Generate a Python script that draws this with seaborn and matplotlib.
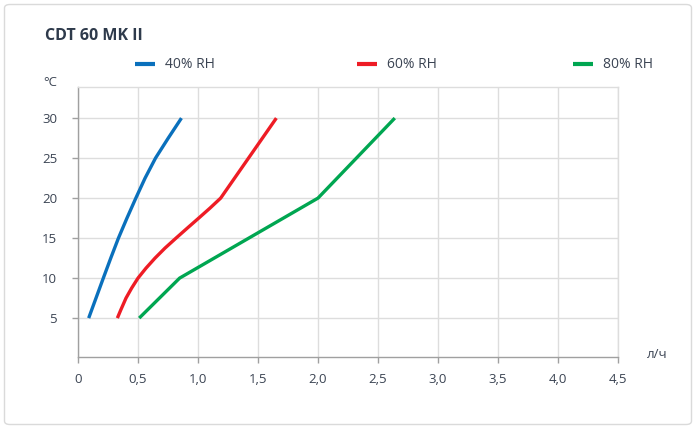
import matplotlib
matplotlib.use("Agg")
import matplotlib.pyplot as plt
from matplotlib.patches import FancyBboxPatch
import seaborn as sns
import pandas as pd

# ---- data ----
title = "CDT 60 MK II"
series_names = ["40% RH", "60% RH", "80% RH"]
blue_x = [0.089, 0.150, 0.211, 0.273, 0.337, 0.408, 0.482, 0.559, 0.646, 0.752, 0.862]
blue_y = [5, 7.5, 10, 12.5, 15, 17.5, 20, 22.5, 25, 27.5, 30]
red_x = [0.328, 0.356, 0.400, 0.447, 0.500, 0.567, 0.642, 0.725, 0.817, 0.911, 1.006, 1.100, 1.189, 1.653]
red_y = [5, 6, 7.5, 8.75, 10, 11.25, 12.5, 13.75, 15, 16.25, 17.5, 18.75, 20, 30]
green_x = [0.51, 0.847, 2.0, 2.64]
green_y = [5, 10, 20, 30]
x_ticks = [0, 0.5, 1.0, 1.5, 2.0, 2.5, 3.0, 3.5, 4.0, 4.5]
x_tick_labels = ["0", "0,5", "1,0", "1,5", "2,0", "2,5", "3,0", "3,5", "4,0", "4,5"]
y_ticks = [5, 10, 15, 20, 25, 30]
y_tick_labels = ["5", "10", "15", "20", "25", "30"]
x_unit = "л/ч"
y_unit = "°C"
colors = ["#0A70BC", "#EE1C25", "#00A651"]

frames = []
for name, xs, ys in zip(series_names, [blue_x, red_x, green_x], [blue_y, red_y, green_y]):
    frames.append(pd.DataFrame({"flow": xs, "temp": ys, "series": name}))
df = pd.concat(frames, ignore_index=True)

sns.set_theme(style="white")
plt.rcParams["font.family"] = ["Open Sans", "DejaVu Sans"]
text_color = "#3B4453"

W, H = 696, 429
fig = plt.figure(figsize=(W / 100, H / 100), dpi=100)
fig.patch.set_facecolor("white")

# card border
card = FancyBboxPatch((4.5 / W, 4.5 / H), (W - 9) / W, (H - 9) / H,
                      boxstyle="round,pad=0,rounding_size=0.008",
                      transform=fig.transFigure, facecolor="none",
                      edgecolor="#DADADA", linewidth=1.0, zorder=-1)
fig.patches.append(card)

left, right = 78, 618
top, bottom = 87.3, 357.3
ax = fig.add_axes([left / W, 1 - bottom / H, (right - left) / W, (bottom - top) / H])
ax.set_facecolor("none")

sns.lineplot(data=df, x="flow", y="temp", hue="series", palette=colors,
             hue_order=series_names, sort=False, estimator=None,
             linewidth=2.4, ax=ax, legend=False)
for ln in ax.get_lines():
    ln.set_solid_joinstyle("round")
    ln.set_solid_capstyle("butt")

ax.set_xlim(0, 4.5)
ax.set_ylim(0.1, 33.85)
ax.set_xticks(x_ticks)
ax.set_xticklabels(x_tick_labels)
ax.set_yticks(y_ticks)
ax.set_yticklabels(y_tick_labels)
ax.grid(True, color="#DDDDDD", linewidth=1.0)
ax.set_axisbelow(True)

for s in ["top", "right"]:
    ax.spines[s].set_color("#DDDDDD")
    ax.spines[s].set_linewidth(1.0)
for s in ["left", "bottom"]:
    ax.spines[s].set_color("#A0A0A0")
    ax.spines[s].set_linewidth(1.0)

ax.tick_params(axis="both", which="major", length=4, width=1, color="#A0A0A0",
               labelsize=9.5, labelcolor=text_color, direction="out",
               left=True, bottom=True)
ax.tick_params(axis="y", pad=11)
ax.tick_params(axis="x", pad=7)

ax.set_xlabel(x_unit, fontsize=9.5, color=text_color, va="center", ha="center")
ax.xaxis.set_label_coords((657 - left) / (right - left), (bottom - 355) / (bottom - top))
ax.set_ylabel(y_unit, fontsize=9.5, color=text_color, rotation=0, va="center", ha="center")
ax.yaxis.set_label_coords((50 - left) / (right - left), (bottom - 82) / (bottom - top))

fig.text(45 / W, 1 - 36.5 / H, title, fontsize=11.5, fontweight="bold",
         color="#2E3A4B", ha="left", va="center")

# legend: three entries spread out across the top
lines = ax.get_lines()
legend_x = [135, 357, 573]
for line, name, lx in zip(lines, series_names, legend_x):
    leg = fig.legend([line], [name], loc="center left",
                     bbox_to_anchor=(lx / W, 1 - 65 / H),
                     frameon=False, fontsize=10, handlelength=1.45,
                     handletextpad=0.7, borderpad=0, borderaxespad=0,
                     labelcolor=text_color)
    for h in leg.legend_handles:
        h.set_linewidth(3)

fig.savefig("out.png", dpi=100, facecolor="white")
